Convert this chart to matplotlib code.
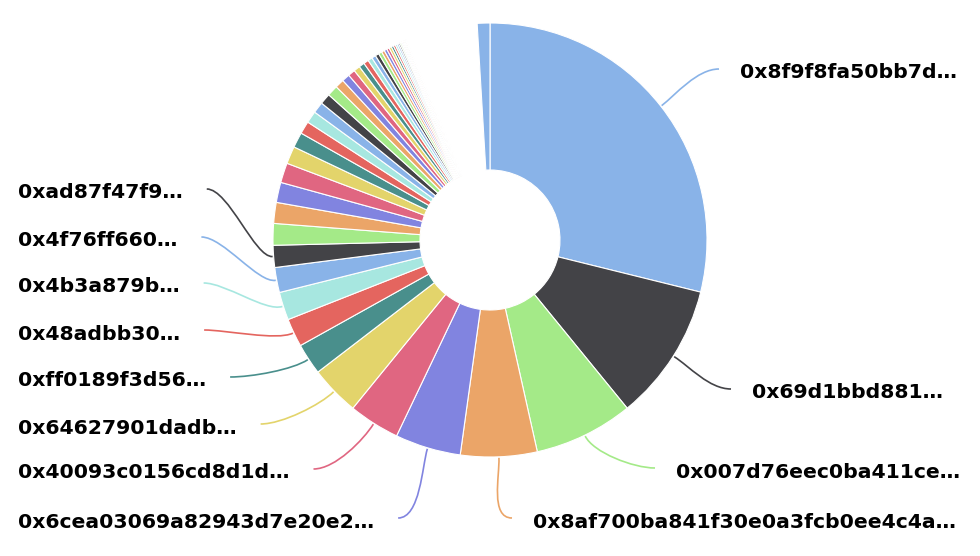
import numpy as np
import matplotlib
matplotlib.use("Agg")
import matplotlib.pyplot as plt
from matplotlib.path import Path
from matplotlib.patches import PathPatch

W, H = 980, 556

shares = [103.9, 36.9, 26.6, 20.5, 17.6, 13.7, 13.3, 8.4, 7.6, 7.5, 6.7, 5.9,
          5.8, 5.6, 5.4, 5.3, 4.7, 4.1, 3.4, 3.2, 3.0, 2.9, 2.9, 2.4,
          2.1, 1.9, 1.7, 1.5, 1.35, 1.2, 1.1, 1.0, 0.9, 0.8, 0.75, 0.7, 0.65,
          0.6, 0.55, 0.5, 0.45, 0.4, 0.35, 0.3, 0.3, 0.25, 0.25, 0.2, 0.2]
# long tail of tiny holders, too thin to show through the white borders
tail_share = 19.3
last_share = 3.4

labels = ["0x8f9f8fa50bb7d…", "0x69d1bbd881…", "0x007d76eec0ba411ce…",
          "0x8af700ba841f30e0a3fcb0ee4c4a…", "0x6cea03069a82943d7e20e2…",
          "0x40093c0156cd8d1d…", "0x64627901dadb…", "0xff0189f3d56…",
          "0x48adbb30…", "0x4b3a879b…", "0x4f76ff660…", "0xad87f47f9…"]

palette = ['#89b3e8', '#434347', '#a4ea88', '#eba568', '#8184e0',
           '#e06681', '#e3d46b', '#498f8c', '#e4655f', '#a7e7e0']

# label layout: (x, y from top, side)
label_pos = [(740, 73, 'r'), (752, 393, 'r'), (676, 472, 'r'), (533, 522, 'r'),
             (18, 522, 'l'), (18, 473, 'l'), (18, 428, 'l'), (18, 381, 'l'),
             (18, 334, 'l'), (18, 287, 'l'), (18, 241, 'l'), (18, 193, 'l')]

cx, cy = 490, H - 240
R, r0 = 217, 70

values = shares + [tail_share, last_share]
colors = [palette[i % 10] for i in range(len(shares))]
colors += ['white', palette[(len(values) - 1) % 10]]

fig = plt.figure(figsize=(W / 100, H / 100), dpi=100)
ax = fig.add_axes([0, 0, 1, 1])
ax.pie(values, colors=colors, startangle=90, counterclock=False,
       center=(cx, cy), radius=R, normalize=True,
       wedgeprops=dict(width=R - r0, edgecolor='white', linewidth=0.8))
ax.set_xlim(0, W)
ax.set_ylim(0, H)
ax.set_aspect('equal')
ax.axis('off')

total = sum(values)
starts = np.cumsum([0] + values[:-1]) / total * 360
mids = starts + np.array(values) / total * 180

texts = []
for i, lab in enumerate(labels):
    x, y, side = label_pos[i]
    t = ax.text(x, H - y, lab, ha='left', va='center', fontsize=14.7,
                fontweight='bold', color='black', family='DejaVu Sans')
    texts.append(t)

fig.canvas.draw()
rend = fig.canvas.get_renderer()

# curved leader lines from slice edge to label
for i, t in enumerate(texts):
    x, y, side = label_pos[i]
    bb = t.get_window_extent(rend)
    th = np.radians(mids[i])
    d = np.array([np.sin(th), np.cos(th)])
    p0 = np.array([cx, cy]) + (R + 1) * d
    p1 = p0 + 18 * d
    ey = H - y + 4
    if side == 'r':
        p3 = np.array([bb.x0 - 21, ey])
        p2 = p3 + [-22, 0]
    else:
        p3 = np.array([bb.x1 + 24, ey])
        p2 = p3 + [22, 0]
    path = Path([p0, p1, p2, p3], [Path.MOVETO, Path.CURVE4, Path.CURVE4, Path.CURVE4])
    ax.add_patch(PathPatch(path, facecolor='none', edgecolor=palette[i % 10], lw=1.2))

fig.savefig('out.png', dpi=100)
